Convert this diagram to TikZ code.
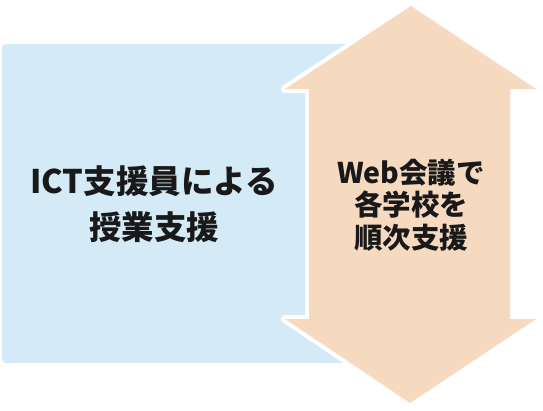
\documentclass[tikz,border=0pt]{standalone}
\usepackage{fontspec}
\newfontfamily\jpfont{Noto Sans CJK JP}
\usetikzlibrary{positioning}
\definecolor{boxblue}{HTML}{D4EAF7}
\definecolor{arrowpeach}{HTML}{F6DAC0}

\begin{document}
\begin{tikzpicture}[x=1pt,y=-1pt,
		panel/.style={fill=boxblue,rounded corners=4pt},
		arrowbody/.style={fill=arrowpeach,draw=white,line width=8pt,line join=round},
		label/.style={align=center,font=\jpfont\bfseries,text=black!90}]
		\useasboundingbox (0,0) rectangle (543,410);
		
		\fill[panel] (2,44) rectangle (400,363);
		
		\coordinate (top)    at (411,6);
		\coordinate (bottom) at (410,403);
		\draw[arrowbody] (top) -- (536,89) -- (510,89) -- (510,319) -- (536,319)
			-- (bottom) -- (285,319) -- (309,319) -- (309,89) -- (285,89) -- cycle;
		\fill[arrowpeach] (top) -- (536,89) -- (510,89) -- (510,319) -- (536,319)
			-- (bottom) -- (285,319) -- (309,319) -- (309,89) -- (285,89) -- cycle;
		
		\node[label,font=\jpfont\bfseries\fontsize{32.5}{46}\selectfont] (ict) at (154,204) {ICT支援員による\\授業支援};
		\node[label,font=\jpfont\bfseries\fontsize{28.5}{32.5}\selectfont] (web) at (411,205) {Web会議で\\各学校を\\順次支援};
\end{tikzpicture}
\end{document}
